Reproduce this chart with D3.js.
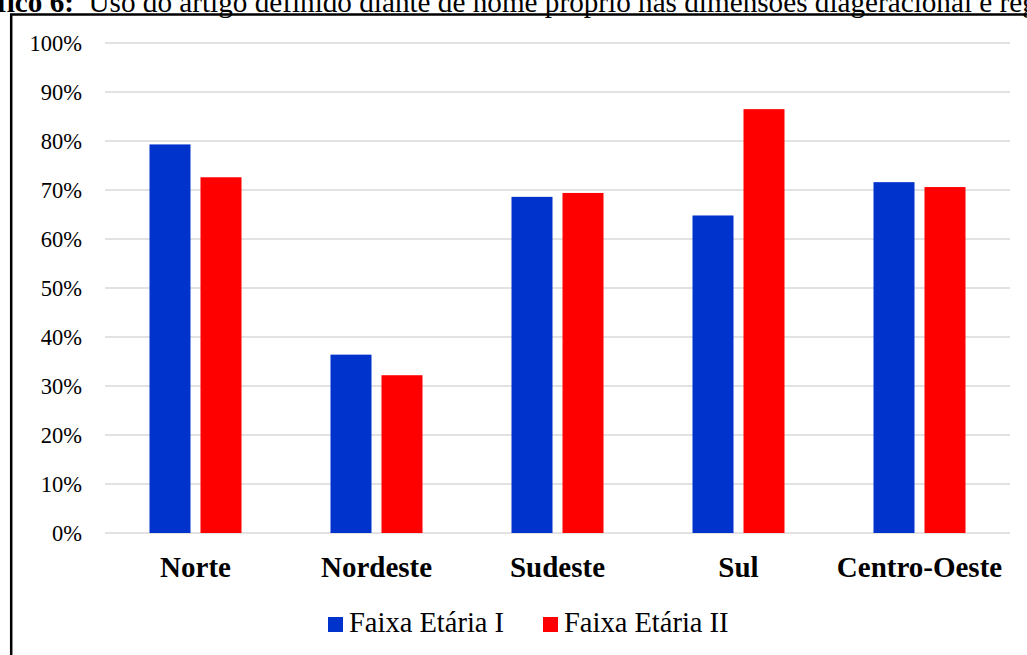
<!DOCTYPE html>
<html>
<head>
<meta charset="utf-8">
<script src="https://cdn.jsdelivr.net/npm/d3@7"></script>
<style>
  html, body { margin: 0; padding: 0; background: #ffffff; }
  svg { display: block; }
  text { font-family: "Liberation Serif", "Times New Roman", serif; fill: #000; }
</style>
</head>
<body>
<svg id="chart" width="1027" height="655"></svg>
<script>
// Regions and the two age-group series (share of article use, 0..1)
const categories = ["Norte", "Nordeste", "Sudeste", "Sul", "Centro-Oeste"];
const seriesNames = ["Faixa Etária I", "Faixa Etária II"];
const faixaI  = [0.793, 0.364, 0.686, 0.648, 0.716];
const faixaII = [0.726, 0.322, 0.694, 0.865, 0.706];
const tickValues = [0, 0.1, 0.2, 0.3, 0.4, 0.5, 0.6, 0.7, 0.8, 0.9, 1.0];
const tickLabels = ["0%", "10%", "20%", "30%", "40%", "50%", "60%", "70%", "80%", "90%", "100%"];
const colors = ["#0033cc", "#ff0000"];

const rows = categories.map((c, i) => ({ cat: c, values: [faixaI[i], faixaII[i]] }));

const svg = d3.select("#chart");

// Caption above the framed chart (runs past the page edges)
svg.append("text")
  .attr("x", 74).attr("y", 11.7)
  .attr("text-anchor", "end")
  .style("font-size", "29.2px").style("font-weight", "bold")
  .text("Gráfico 6:");
svg.append("text")
  .attr("x", 88.5).attr("y", 11.7)
  .style("font-size", "29.2px")
  .text("Uso do artigo definido diante de nome próprio nas dimensões diageracional e regional");

// Frame around the chart
svg.append("rect")
  .attr("x", 11.2).attr("y", 14.5)
  .attr("width", 1100).attr("height", 700)
  .attr("fill", "none").attr("stroke", "#000").attr("stroke-width", 2.5);

const x0 = d3.scaleBand().domain(categories).range([105, 1010]).paddingInner(0).paddingOuter(0);
const x1 = d3.scaleBand().domain(seriesNames)
  .range([44.5, x0.bandwidth() - 44.5]).paddingInner(10 / 51).paddingOuter(0);
const y = d3.scaleLinear().domain([0, 1]).range([533, 43]);

// Horizontal gridlines
svg.append("g")
  .selectAll("line").data(tickValues).join("line")
  .attr("x1", 105).attr("x2", 1010)
  .attr("y1", d => y(d)).attr("y2", d => y(d))
  .attr("stroke", "#d9d9d9").attr("stroke-width", 1.5);

// Y axis labels
const yAxis = svg.append("g")
  .attr("transform", "translate(88,0)")
  .call(d3.axisLeft(y).tickValues(tickValues).tickSize(0).tickPadding(6)
    .tickFormat((d, i) => tickLabels[i]));
yAxis.select(".domain").remove();
yAxis.selectAll("text")
  .style("font-family", "'Liberation Serif', 'Times New Roman', serif")
  .style("font-size", "22.5px").attr("fill", "#000").attr("dy", "0.34em");

// Bars
const groups = svg.append("g").selectAll("g").data(rows).join("g")
  .attr("transform", d => `translate(${x0(d.cat)},0)`);
groups.selectAll("rect")
  .data(d => d.values.map((v, k) => ({ key: seriesNames[k], v, k })))
  .join("rect")
  .attr("x", d => x1(d.key))
  .attr("width", x1.bandwidth())
  .attr("y", d => y(d.v))
  .attr("height", d => y(0) - y(d.v))
  .attr("fill", d => colors[d.k]);

// Category labels
const xAxis = svg.append("g")
  .attr("transform", "translate(0,533)")
  .call(d3.axisBottom(x0).tickSize(0).tickPadding(0));
xAxis.select(".domain").remove();
xAxis.selectAll("text")
  .attr("y", 44.3).attr("dy", 0)
  .style("font-family", "'Liberation Serif', 'Times New Roman', serif")
  .style("font-size", "29px").style("font-weight", "bold").attr("fill", "#000");

// Legend
const legendX = [328, 543];
const legend = svg.append("g").selectAll("g").data(seriesNames).join("g")
  .attr("transform", (d, i) => `translate(${legendX[i]},617)`);
legend.append("rect")
  .attr("width", 15).attr("height", 15)
  .attr("fill", (d, i) => colors[i]);
legend.append("text")
  .attr("x", 21).attr("y", 14.7)
  .style("font-size", "28.5px")
  .text(d => d);
</script>
</body>
</html>
